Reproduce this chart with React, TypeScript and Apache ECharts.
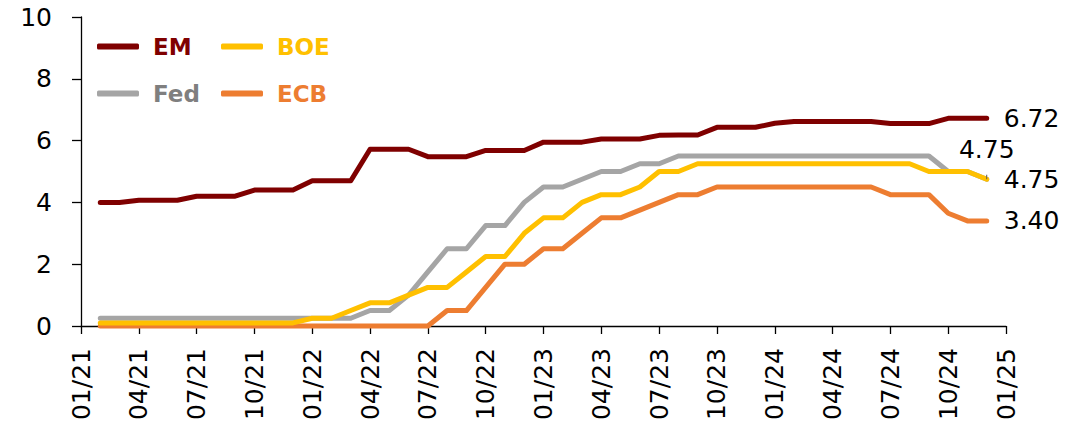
import React, { useEffect, useRef } from "react";
import * as echarts from "echarts";

// Month-end observations, Jan 2021 .. Nov 2024 (plotted at the start of the following month)
const emRates = [
  4.0, 4.0, 4.07, 4.07, 4.07, 4.2, 4.2, 4.2, 4.4, 4.4, 4.4, 4.7,
  4.7, 4.7, 5.72, 5.72, 5.72, 5.48, 5.48, 5.48, 5.68, 5.68, 5.68, 5.95,
  5.95, 5.95, 6.05, 6.05, 6.05, 6.17, 6.18, 6.18, 6.43, 6.43, 6.43, 6.56,
  6.62, 6.62, 6.62, 6.62, 6.62, 6.55, 6.55, 6.55, 6.72, 6.72, 6.72,
];
const fedRates = [
  0.25, 0.25, 0.25, 0.25, 0.25, 0.25, 0.25, 0.25, 0.25, 0.25, 0.25, 0.25,
  0.25, 0.25, 0.5, 0.5, 1.0, 1.75, 2.5, 2.5, 3.25, 3.25, 4.0, 4.5,
  4.5, 4.75, 5.0, 5.0, 5.25, 5.25, 5.5, 5.5, 5.5, 5.5, 5.5, 5.5,
  5.5, 5.5, 5.5, 5.5, 5.5, 5.5, 5.5, 5.5, 5.0, 5.0, 4.75,
];
const boeRates = [
  0.1, 0.1, 0.1, 0.1, 0.1, 0.1, 0.1, 0.1, 0.1, 0.1, 0.1, 0.25,
  0.25, 0.5, 0.75, 0.75, 1.0, 1.25, 1.25, 1.75, 2.25, 2.25, 3.0, 3.5,
  3.5, 4.0, 4.25, 4.25, 4.5, 5.0, 5.0, 5.25, 5.25, 5.25, 5.25, 5.25,
  5.25, 5.25, 5.25, 5.25, 5.25, 5.25, 5.25, 5.0, 5.0, 5.0, 4.75,
];
const ecbRates = [
  0, 0, 0, 0, 0, 0, 0, 0, 0, 0, 0, 0,
  0, 0, 0, 0, 0, 0, 0.5, 0.5, 1.25, 2.0, 2.0, 2.5,
  2.5, 3.0, 3.5, 3.5, 3.75, 4.0, 4.25, 4.25, 4.5, 4.5, 4.5, 4.5,
  4.5, 4.5, 4.5, 4.5, 4.5, 4.25, 4.25, 4.25, 3.65, 3.4, 3.4,
];

const startYear = 21;
const monthCount = 49; // 01/21 .. 01/25
const categories: string[] = [];
for (let i = 0; i < monthCount; i++) {
  const m = (i % 12) + 1;
  const y = startYear + Math.floor(i / 12);
  categories.push(`${String(m).padStart(2, "0")}/${y}`);
}

const yTicks = { min: 0, max: 10, interval: 2 };

const colors = {
  EM: "#7f0000",
  BOE: "#ffc000",
  Fed: "#a5a5a5",
  ECB: "#ed7d31",
};
const legendTextColors = {
  EM: "#7f0000",
  BOE: "#ffc000",
  Fed: "#7f7f7f",
  ECB: "#ed7d31",
};

const FONT = "DejaVu Sans";

function buildData(values: number[], labelPos: "right" | "top", distance: number, leader: boolean) {
  const out: any[] = [null];
  values.forEach((v, i) => {
    if (i === values.length - 1) {
      const item: any = {
        value: v,
        label: {
          show: true,
          position: labelPos,
          distance,
          formatter: (p: any) => Number(p.value).toFixed(2),
          color: "#000",
          fontFamily: FONT,
          fontSize: 25,
        },
      };
      if (leader) {
        item.labelLine = { show: true, lineStyle: { color: "#595959", width: 1 } };
      }
      out.push(item);
    } else {
      out.push(v);
    }
  });
  return out;
}

function makeSeries(name: string, values: number[], labelPos: "right" | "top", distance: number, leader = false) {
  const c = (colors as any)[name];
  return {
    name,
    type: "line",
    data: buildData(values, labelPos, distance, leader),
    showSymbol: true,
    symbol: "circle",
    symbolSize: 0,
    clip: false,
    lineStyle: { color: c, width: 5, cap: "round", join: "round" },
    itemStyle: { color: c },
    label: { show: false },
    emphasis: { disabled: true },
  };
}

function makeLegend(name: string, left: number, top: number) {
  return {
    data: [{ name, textStyle: { color: (legendTextColors as any)[name] } }],
    left,
    top,
    padding: 0,
    icon: "roundRect",
    itemWidth: 42,
    itemHeight: 6,
    selectedMode: false,
    textStyle: {
      fontFamily: FONT,
      fontSize: 23,
      fontWeight: "bold",
      padding: [0, 0, 0, 9],
    },
  };
}

export default function App() {
  const ref = useRef<HTMLDivElement>(null);
  useEffect(() => {
    if (!ref.current) return;
    const chart = echarts.init(ref.current, null, { renderer: "svg" });
    chart.setOption({
      animation: false,
      backgroundColor: "#ffffff",
      grid: { left: 81, right: 75, top: 17, bottom: 103, containLabel: false },
      legend: [
        makeLegend("EM", 97, 35),
        makeLegend("BOE", 221, 35),
        makeLegend("Fed", 97, 82),
        makeLegend("ECB", 221, 82),
      ],
      xAxis: {
        type: "category",
        data: categories,
        boundaryGap: false,
        axisLine: { show: true, lineStyle: { color: "#000", width: 1.3 } },
        axisTick: { show: true, interval: 2, length: 8, lineStyle: { color: "#000", width: 1.3 } },
        axisLabel: {
          interval: 2,
          rotate: 90,
          margin: 22,
          color: "#000",
          fontFamily: FONT,
          fontSize: 25,
        },
        splitLine: { show: false },
      },
      yAxis: {
        type: "value",
        min: yTicks.min,
        max: yTicks.max,
        interval: yTicks.interval,
        axisLine: { show: true, lineStyle: { color: "#000", width: 1.3 } },
        axisTick: { show: true, length: 9, lineStyle: { color: "#000", width: 1.3 } },
        axisLabel: { color: "#000", fontFamily: FONT, fontSize: 25, margin: 29 },
        splitLine: { show: false },
      },
      series: [
        makeSeries("EM", emRates, "right", 17),
        makeSeries("Fed", fedRates, "top", 17, true),
        makeSeries("ECB", ecbRates, "right", 17),
        makeSeries("BOE", boeRates, "right", 17),
      ],
    });
    return () => chart.dispose();
  }, []);
  return (
    <div
      ref={ref}
      style={{ position: "absolute", left: 0, top: 0, width: 1081, height: 429 }}
    />
  );
}
